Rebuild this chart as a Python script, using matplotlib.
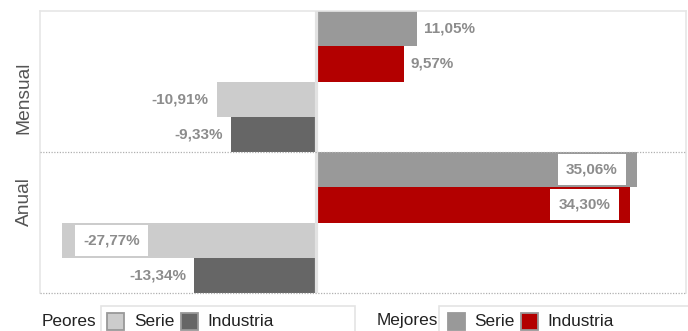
import matplotlib.pyplot as plt
from matplotlib.patches import Rectangle

plt.rcParams['font.family'] = ['Liberation Sans', 'DejaVu Sans']

periodos = ["Mensual", "Anual"]
mejores_serie = [11.05, 35.06]
mejores_industria = [9.57, 34.30]
peores_serie = [-10.91, -27.77]
peores_industria = [-9.33, -13.34]

col_mej_serie = '#999999'
col_mej_ind = '#b30000'
col_peo_serie = '#cccccc'
col_peo_ind = '#666666'

W, H = 688, 331
fig = plt.figure(figsize=(W / 100, H / 100), dpi=100)


def fx(x):
    return x / W


def fy(y):
    return 1 - y / H


ax = fig.add_axes([fx(40), fy(293), fx(686) - fx(40), fy(11) - fy(293)])

# four rows per period: best serie, best industry, worst serie, worst industry
valores, colores = [], []
for i in range(len(periodos)):
    valores += [mejores_serie[i], mejores_industria[i], peores_serie[i], peores_industria[i]]
    colores += [col_mej_serie, col_mej_ind, col_peo_serie, col_peo_ind]
filas = list(range(len(valores)))

ax.barh([f + 0.5 for f in filas], valores, height=1.0, color=colores, zorder=2)
ax.set_xlim(-30.2, 40.4)
ax.set_ylim(len(valores), 0)
ax.axvline(0, color='#e2e2e2', lw=2.3, zorder=3)

for f, v in zip(filas, valores):
    txt = f"{v:.2f}".replace('.', ',') + '%'
    kw = dict(xy=(v, f + 0.5), textcoords='offset points', va='center',
              fontsize=11, fontweight='bold', color='#8c8c8c', zorder=5)
    if abs(v) > 20:
        # long bars carry the value inside, on a white tag
        off = -14 if v > 0 else 15
        ax.annotate(txt, xytext=(off, 0), ha='right' if v > 0 else 'left',
                    bbox=dict(boxstyle='square,pad=0.55', fc='white', ec='none'), **kw)
    else:
        off = 5 if v > 0 else -5.5
        ax.annotate(txt, xytext=(off, 0), ha='left' if v > 0 else 'right', **kw)

for spine in ['top', 'left', 'right']:
    ax.spines[spine].set_color('#e6e6e6')
    ax.spines[spine].set_linewidth(1.2)
ax.spines['bottom'].set_visible(False)
for yy in [4, 8]:
    ax.axhline(yy, color='#b0b0b0', lw=0.9, ls=(0, (1, 1.2)), zorder=4, clip_on=False)
ax.set_xticks([])
ax.set_yticks([])

# period labels on the left
for nombre, ypx in zip(periodos, [98, 202]):
    fig.text(fx(24), fy(ypx), nombre, rotation=90, ha='center', va='center',
             fontsize=13.8, color='#555555')

# legend boxes
fig.add_artist(Rectangle((fx(101), fy(340)), fx(355) - fx(101), fy(306) - fy(340),
                         transform=fig.transFigure, fc='white', ec='#e4e4e4', lw=1.2))
fig.add_artist(Rectangle((fx(439), fy(340)), fx(700) - fx(439), fy(306) - fy(340),
                         transform=fig.transFigure, fc='white', ec='#e4e4e4', lw=1.2))

leyenda = [
    ("Peores", 42, [(107, col_peo_serie, "Serie", 134), (181, col_peo_ind, "Industria", 207)]),
    ("Mejores", 377, [(448, col_mej_serie, "Serie", 474), (521, col_mej_ind, "Industria", 547)]),
]
for titulo, xt, items in leyenda:
    fig.text(fx(xt), fy(321), titulo, ha='left', va='center', fontsize=12.4, color='#222222')
    for xs, c, lab, xl in items:
        fig.add_artist(Rectangle((fx(xs), fy(330)), fx(17), fy(313) - fy(330),
                                 transform=fig.transFigure, fc=c, ec='#999999', lw=1.3))
        fig.text(fx(xl), fy(321), lab, ha='left', va='center', fontsize=12.4, color='#222222')

fig.savefig('out.png', dpi=100)
